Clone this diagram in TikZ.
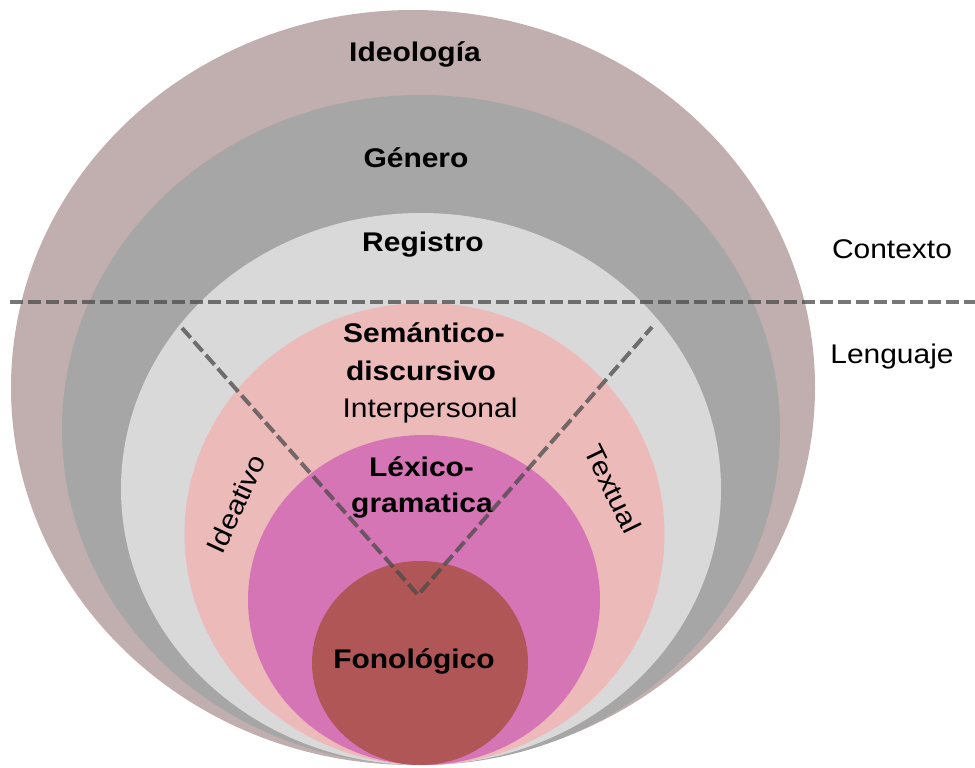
\documentclass[tikz,border=0pt]{standalone}
\usepackage{fontspec}
\setmainfont{Liberation Sans}[FakeStretch=1.11]
\definecolor{cIdeo}{HTML}{C1AEAE}
\definecolor{cGen}{HTML}{A6A6A6}
\definecolor{cReg}{HTML}{D9D9D9}
\definecolor{cSem}{HTML}{EDBABA}
\definecolor{cLex}{HTML}{D675B5}
\definecolor{cFon}{HTML}{B05656}
\definecolor{cDash}{HTML}{4A4A4A}
\tikzset{
  lblb/.style={font=\bfseries\fontsize{27}{30}\selectfont, inner sep=0pt, text=black},
  lblr/.style={font=\fontsize{27}{30}\selectfont, inner sep=0pt, text=black},
  divline/.style={draw=cDash, draw opacity=0.75, line width=4pt, dash pattern=on 13pt off 5pt},
}
\begin{document}
\begin{tikzpicture}[x=1pt,y=-1pt]
\useasboundingbox (0,0) rectangle (975,768);
% nested ellipses
\fill[cIdeo] (413,387.5) ellipse [x radius=402pt, y radius=377.5pt];
\fill[cGen]  (421,430)   ellipse [x radius=359pt, y radius=335pt];
\fill[cReg]  (421,489)   ellipse [x radius=300pt, y radius=276pt];
\fill[cSem]  (424.5,534) ellipse [x radius=240pt, y radius=231pt];
\fill[cLex]  (424,600)   ellipse [x radius=176pt, y radius=165pt];
\fill[cFon]  (420,663)   ellipse [x radius=108pt, y radius=102pt];
% labels
\node[lblb, anchor=base] (ideo) at (415,62) {Ideología};
\node[lblb, anchor=base] (gen) at (416,167) {Género};
\node[lblb, anchor=base] (reg) at (423,251) {Registro};
\node[lblr, anchor=base] (ctx) at (892,258) {Contexto};
\node[lblr, anchor=base] (len) at (892,363) {Lenguaje};
\node[lblb, anchor=base] (sem1) at (424,342) {Semántico-};
\node[lblb, anchor=base] (sem2) at (421,380) {discursivo};
\node[lblr, anchor=base] (inter) at (430,417) {Interpersonal};
\node[lblb, anchor=base] (lex1) at (421.5,476) {Léxico-};
\node[lblb, anchor=base] (lex2) at (422,512) {gramatica};
\node[lblb, anchor=base] (fon) at (414,668) {Fonológico};
\node[lblr, rotate=65] (ideat) at (236,504) {Ideativo};
\node[lblr, rotate=-64] (textual) at (613,489) {Textual};
% dividing lines
\coordinate (hl) at (10,302);
\coordinate (hr) at (975,302);
\coordinate (vl) at (182,328);
\coordinate (va) at (418,595);
\coordinate (vr) at (652,327);
\draw[divline] (hl) -- (hr);
\draw[divline] (vl) -- (va) -- (vr);
\end{tikzpicture}
\end{document}
